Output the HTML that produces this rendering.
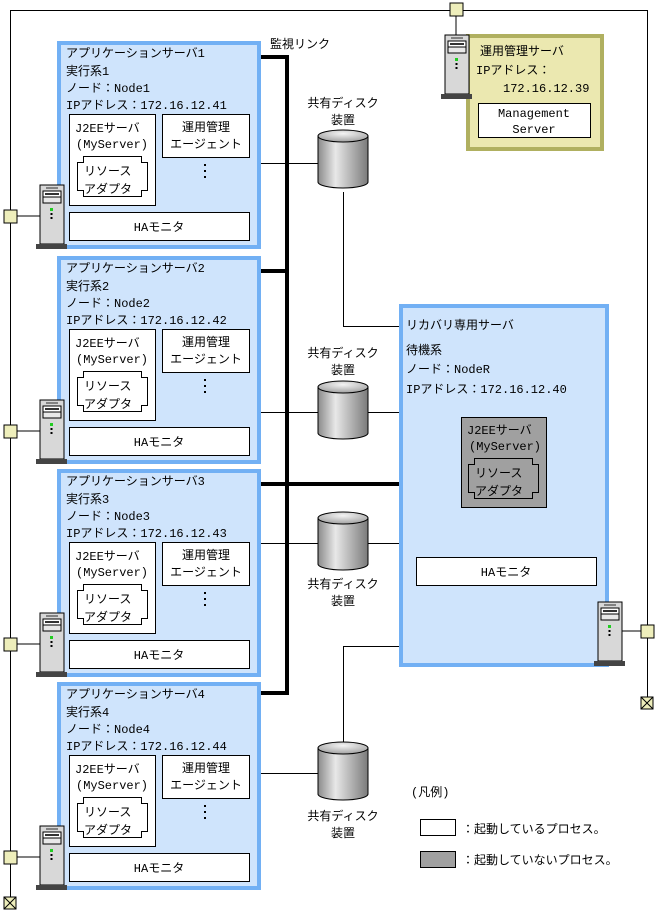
<!DOCTYPE html>
<html><head><meta charset="utf-8"><style>
html,body{margin:0;padding:0;background:#fff;}
svg{display:block;}
text{font-family:"Liberation Mono","Noto Sans CJK JP",monospace;font-size:12px;fill:#000;}
</style></head><body>
<svg width="666" height="911" viewBox="0 0 666 911" xmlns="http://www.w3.org/2000/svg">
<defs>
<linearGradient id="dg" x1="0" x2="1" y1="0" y2="0">
<stop offset="0" stop-color="#8a8a8a"/><stop offset="0.35" stop-color="#e8e8e8"/><stop offset="1" stop-color="#7a7a7a"/>
</linearGradient>
<radialGradient id="dt" cx="0.5" cy="0.3" r="0.7"><stop offset="0" stop-color="#f4f4f4"/><stop offset="1" stop-color="#a0a0a0"/></radialGradient>
<g id="pc">
<rect x="0" y="0" width="24" height="59" fill="#d8d8d8" stroke="#000"/>
<line x1="6" y1="3" x2="18" y2="3" stroke="#666" stroke-width="1.5"/>
<rect x="3" y="6" width="18" height="6" fill="#fff" stroke="#000"/>
<rect x="5" y="8" width="14" height="2" fill="#333"/>
<rect x="3" y="12" width="18" height="6" fill="#e8e8e8" stroke="#000"/>
<rect x="10" y="23" width="3" height="3" fill="#2c2"/>
<rect x="10.5" y="28" width="2" height="2" fill="#000"/>
<rect x="10.5" y="32" width="2" height="2" fill="#000"/>
<rect x="-4" y="59" width="31" height="5" fill="#444"/>
</g>
<g id="sq"><rect x="0" y="0" width="13" height="13" fill="#eeeebb" stroke="#000"/></g>
<g id="term"><rect x="0" y="0" width="12" height="12" fill="#eeeebb" stroke="#000"/><path d="M0 0L12 12M12 0L0 12" stroke="#000"/></g>
<g id="disk">
<path d="M0 6 V52 A25 6 0 0 0 50 52 V6 Z" fill="url(#dg)" stroke="#000"/>
<ellipse cx="25" cy="6" rx="25" ry="6" fill="url(#dt)" stroke="#000"/>
</g>
<g id="ra">
<path d="M6 0 H64 V6 H70 V34 H64 V40 H6 V34 H0 V6 H6 Z" fill="none" stroke="#000"/>
</g>
<g id="app">
<rect x="59" y="43" width="200" height="204" fill="#cfe4fc" stroke="#72b0f4" stroke-width="4"/>
<rect x="69.5" y="114.5" width="86" height="91" fill="#fff" stroke="#000"/>
<text x="75" y="132">J2EEサーバ</text>
<text x="76" y="148">(MyServer)</text>
<use href="#ra" x="77.5" y="156.5"/>
<text x="84" y="175">リソース</text>
<text x="84" y="193">アダプタ</text>
<rect x="162.5" y="114.5" width="87" height="43" fill="#fff" stroke="#000"/>
<text x="206" y="131" text-anchor="middle">運用管理</text>
<text x="206" y="148" text-anchor="middle">エージェント</text>
<rect x="204" y="164" width="2" height="2"/><rect x="204" y="170" width="2" height="2"/><rect x="204" y="176" width="2" height="2"/>
<rect x="69.5" y="212.5" width="180" height="28" fill="#fff" stroke="#000"/>
<text x="159" y="231" text-anchor="middle">HAモニタ</text>
</g>
</defs>

<path d="M10.5 897 V10.5 H647.5 V703" fill="none" stroke="#000"/>
<line x1="456" y1="16" x2="456" y2="40" stroke="#000"/>
<use href="#term" x="4" y="897"/>
<use href="#term" x="641" y="697"/>
<use href="#sq" x="450" y="3"/>

<g>
<use href="#app"/>
<text x="66" y="57">アプリケーションサーバ1</text><text x="66" y="75">実行系1</text><text x="66" y="92">ノード：Node1</text><text x="66" y="109">IPアドレス：172.16.12.41</text>
</g>
<g transform="translate(0,215)">
<use href="#app"/>
<text x="66" y="57">アプリケーションサーバ2</text><text x="66" y="75">実行系2</text><text x="66" y="92">ノード：Node2</text><text x="66" y="109">IPアドレス：172.16.12.42</text>
</g>
<g transform="translate(0,428)">
<use href="#app"/>
<text x="66" y="57">アプリケーションサーバ3</text><text x="66" y="75">実行系3</text><text x="66" y="92">ノード：Node3</text><text x="66" y="109">IPアドレス：172.16.12.43</text>
</g>
<g transform="translate(0,641)">
<use href="#app"/>
<text x="66" y="57">アプリケーションサーバ4</text><text x="66" y="75">実行系4</text><text x="66" y="92">ノード：Node4</text><text x="66" y="109">IPアドレス：172.16.12.44</text>
</g>

<g><line x1="16" y1="216" x2="40" y2="216" stroke="#000"/><use href="#sq" x="4" y="210"/><use href="#pc" x="40" y="185"/></g>
<g transform="translate(0,215)"><line x1="16" y1="216" x2="40" y2="216" stroke="#000"/><use href="#sq" x="4" y="210"/><use href="#pc" x="40" y="185"/></g>
<g transform="translate(0,428)"><line x1="16" y1="216" x2="40" y2="216" stroke="#000"/><use href="#sq" x="4" y="210"/><use href="#pc" x="40" y="185"/></g>
<g transform="translate(0,641)"><line x1="16" y1="216" x2="40" y2="216" stroke="#000"/><use href="#sq" x="4" y="210"/><use href="#pc" x="40" y="185"/></g>

<text x="270" y="48">監視リンク</text>
<path d="M261 57 H287 V693 H261" fill="none" stroke="#000" stroke-width="4"/>
<line x1="261" y1="271" x2="287" y2="271" stroke="#000" stroke-width="4"/>
<line x1="261" y1="484" x2="400" y2="484" stroke="#000" stroke-width="4"/>

<line x1="261" y1="163.5" x2="318" y2="163.5" stroke="#000"/>
<path d="M343.5 192 V326.5 H400" fill="none" stroke="#000"/>
<line x1="261" y1="412.5" x2="400" y2="412.5" stroke="#000"/>
<line x1="261" y1="543.5" x2="400" y2="543.5" stroke="#000"/>
<path d="M343.5 742 V646.5 H400" fill="none" stroke="#000"/>
<line x1="261" y1="773.5" x2="318" y2="773.5" stroke="#000"/>

<use href="#disk" x="318" y="130"/>
<text x="343" y="107" text-anchor="middle">共有ディスク</text><text x="343" y="124" text-anchor="middle">装置</text>
<use href="#disk" x="318" y="381"/>
<text x="343" y="357" text-anchor="middle">共有ディスク</text><text x="343" y="374" text-anchor="middle">装置</text>
<use href="#disk" x="318" y="512"/>
<text x="343" y="588" text-anchor="middle">共有ディスク</text><text x="343" y="605" text-anchor="middle">装置</text>
<use href="#disk" x="318" y="742"/>
<text x="343" y="820" text-anchor="middle">共有ディスク</text><text x="343" y="837" text-anchor="middle">装置</text>

<rect x="401" y="306" width="206" height="359" fill="#cfe4fc" stroke="#72b0f4" stroke-width="4"/>
<text x="406" y="329">リカバリ専用サーバ</text>
<text x="406" y="354">待機系</text>
<text x="406" y="373">ノード：NodeR</text>
<text x="406" y="393">IPアドレス：172.16.12.40</text>
<rect x="461.5" y="417.5" width="85" height="90" fill="#a0a0a0" stroke="#000"/>
<text x="467" y="434">J2EEサーバ</text>
<text x="469" y="450">(MyServer)</text>
<use href="#ra" x="468.5" y="458.5"/>
<text x="475" y="477">リソース</text>
<text x="475" y="495">アダプタ</text>
<rect x="416.5" y="557.5" width="180" height="28" fill="#fff" stroke="#000"/>
<text x="506" y="576" text-anchor="middle">HAモニタ</text>
<line x1="621" y1="631" x2="641" y2="631" stroke="#000"/>
<use href="#sq" x="641" y="625"/>
<use href="#pc" x="598" y="602"/>

<rect x="468" y="36" width="134" height="113" fill="#ebe8b0" stroke="#b0b060" stroke-width="4"/>
<text x="480" y="55">運用管理サーバ</text>
<text x="476" y="74">IPアドレス：</text>
<text x="503" y="92">172.16.12.39</text>
<rect x="478.5" y="103.5" width="112" height="34" fill="#fff" stroke="#000"/>
<text x="534" y="117" text-anchor="middle">Management</text>
<text x="534" y="133" text-anchor="middle">Server</text>
<use href="#pc" x="445" y="35"/>

<text x="411" y="796">(凡例)</text>
<rect x="420.5" y="819.5" width="35" height="16" fill="#fff" stroke="#000"/>
<text x="462" y="833">：起動しているプロセス。</text>
<rect x="420.5" y="851.5" width="35" height="16" fill="#a0a0a0" stroke="#000"/>
<text x="462" y="864">：起動していないプロセス。</text>
</svg>
</body></html>
